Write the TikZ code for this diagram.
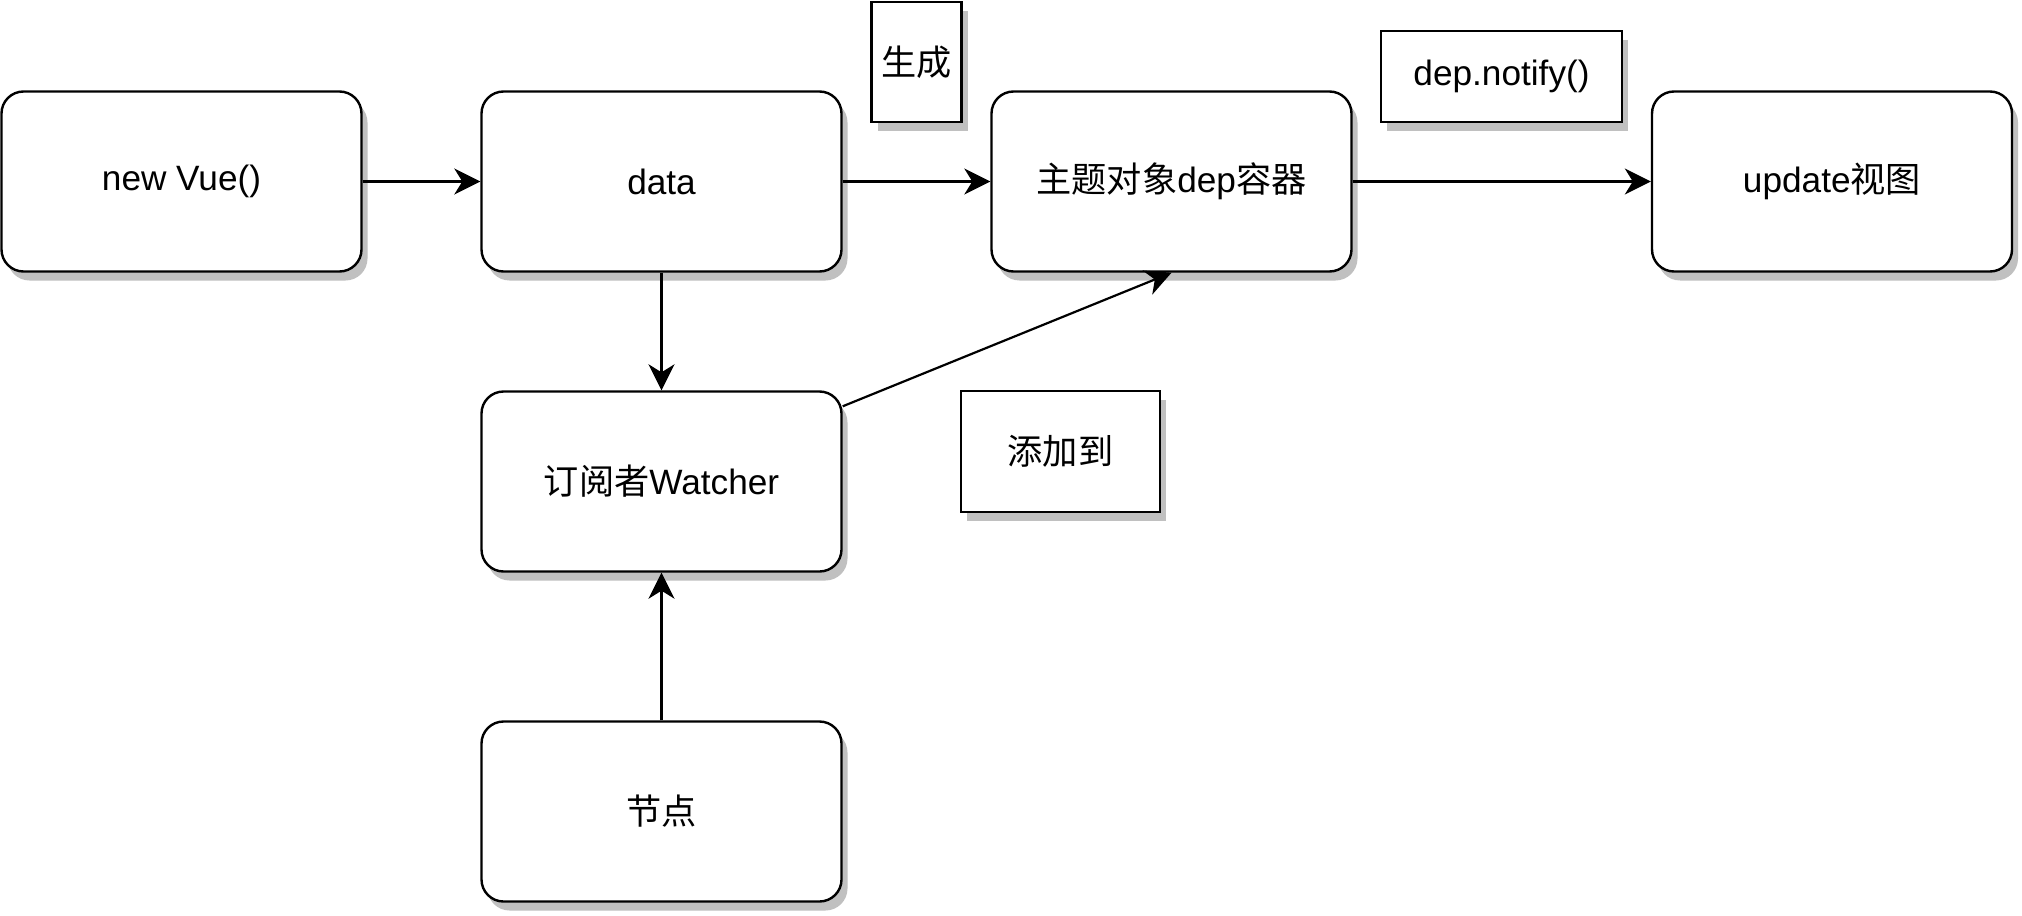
\documentclass[tikz,border=0pt]{standalone}
\usepackage{fontspec}
\setmainfont{Liberation Sans}
\newfontfamily\cjk{Noto Sans CJK SC}
\usetikzlibrary{arrows.meta,shadows,calc}
\definecolor{shadowgray}{RGB}{192,192,192}
\begin{document}
\begin{tikzpicture}[x=0.5pt,y=-0.5pt,
  shadowed/.style={drop shadow={shadow xshift=3pt, shadow yshift=-4.5pt, fill=shadowgray, opacity=1}},
  box/.style={draw, line width=1.2pt, rounded corners=11pt, fill=white, minimum width=180pt, minimum height=90pt, inner sep=0pt, font=\fontsize{17.6}{20}\selectfont, shadowed},
  lbl/.style={draw, line width=1.2pt, fill=white, inner sep=0pt, font=\fontsize{17.6}{20}\selectfont, shadowed},
  arr/.style={draw, line width=1.1pt, -{Stealth[length=13pt,width=13pt,inset=4pt]}}
]
\fill[white] (0,0) rectangle (2022,915);
\useasboundingbox (0,0) rectangle (2022,915);

\node[box] (vue) at (181.5,181.5) {new Vue()};
\node[box] (data) at (661.5,181.5) {data};
\node[box] (dep) at (1171.5,181.5) {{\cjk 主题对象}dep{\cjk 容器}};
\node[box] (upd) at (1832,181.5) {update{\cjk 视图}};
\node[box] (watch) at (661.5,481.5) {{\cjk 订阅者}Watcher};
\node[box] (jd) at (661.5,811.5) {{\cjk 节点}};

\node[lbl, minimum width=45pt, minimum height=60pt] (gen) at (916.5,62) {{\cjk 生成}};
\node[lbl, minimum width=120.5pt, minimum height=45.5pt] (notify) at (1501.5,76.5) {dep.notify()};
\node[lbl, minimum width=99.5pt, minimum height=60.5pt] (add) at (1060.5,451.5) {{\cjk 添加到}};

\draw[arr] (vue) -- (data);
\draw[arr] (data) -- (dep);
\draw[arr] (dep) -- (upd);
\draw[arr] (data) -- (watch);
\draw[arr] (jd) -- (watch);
\coordinate (ws) at ($(watch.north east)+(0,16)$);
\draw[arr] (ws) -- (dep.south);
\end{tikzpicture}
\end{document}
